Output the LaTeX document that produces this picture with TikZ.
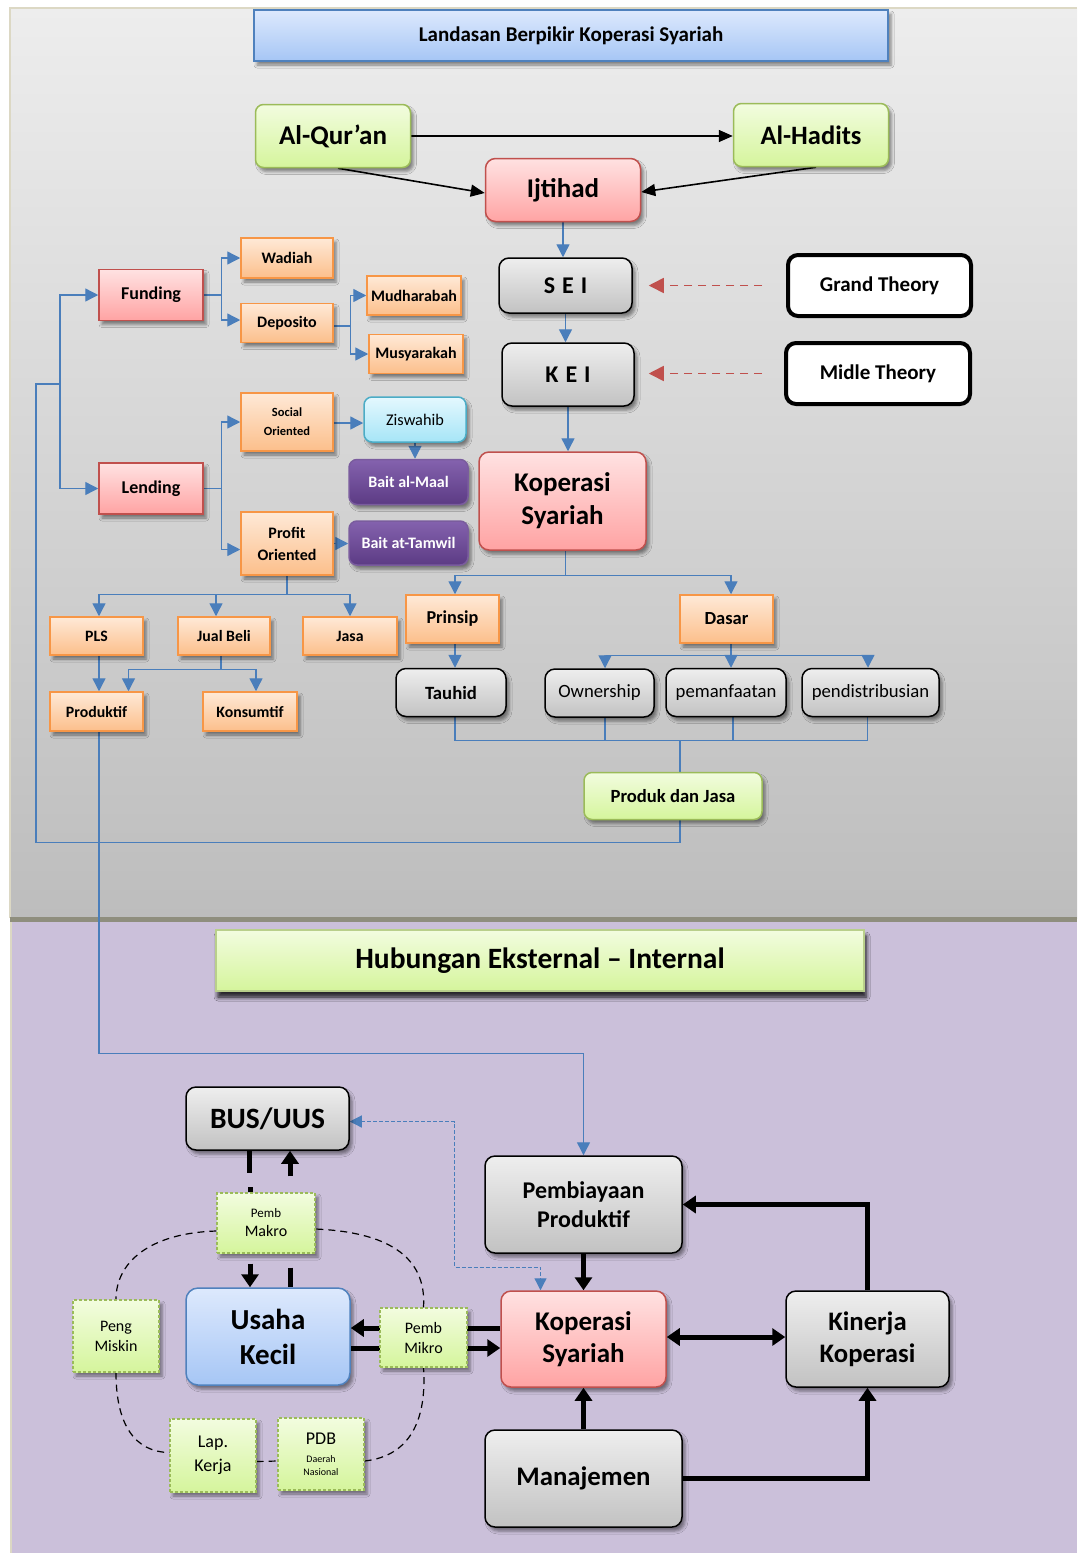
\documentclass[tikz,border=0pt]{standalone}
\usepackage{fontspec}
\setmainfont{Carlito}
\usetikzlibrary{arrows.meta,shadows.blur}

\newcommand\setfs[2]{\fontsize{#1}{#2}\selectfont}

\definecolor{panTop}{HTML}{EDEDED}
\definecolor{panBot}{HTML}{BDBDBD}
\definecolor{lav}{HTML}{CBC0DA}
\definecolor{seam}{HTML}{8F8E7E}
\definecolor{rim}{HTML}{DCD8C4}
\definecolor{gTop}{HTML}{F2FCDF}
\definecolor{gBot}{HTML}{D5F59C}
\definecolor{gLine}{HTML}{9BBB59}
\definecolor{rTop}{HTML}{FFE2E2}
\definecolor{rBot}{HTML}{FFA3A3}
\definecolor{rLine}{HTML}{C0504D}
\definecolor{kTop}{HTML}{EEEEEE}
\definecolor{kBot}{HTML}{C2C2C2}
\definecolor{oTop}{HTML}{FEE9D7}
\definecolor{oBot}{HTML}{FCBF8B}
\definecolor{oLine}{HTML}{F79646}
\definecolor{bTop}{HTML}{DDE9FD}
\definecolor{bBot}{HTML}{A6C6F5}
\definecolor{bLine}{HTML}{4F81BD}
\definecolor{cTop}{HTML}{E4F8FE}
\definecolor{cBot}{HTML}{A6E5F7}
\definecolor{cLine}{HTML}{4BACC6}
\definecolor{pTop}{HTML}{8462AE}
\definecolor{pBot}{HTML}{5C3B84}
\definecolor{pLine}{HTML}{7A5C9E}
\definecolor{wire}{HTML}{4A7EBB}

\pgfdeclarelayer{back}
\pgfdeclarelayer{wires}
\pgfsetlayers{back,wires,main}

\tikzset{
  base/.style={align=center, inner sep=1pt,
    blur shadow={shadow xshift=3pt, shadow yshift=-4pt, shadow blur radius=3pt, shadow opacity=45}},
  greenbox/.style={base, rounded corners=8pt, top color=gTop, bottom color=gBot, draw=gLine, line width=1.5pt},
  greensharp/.style={base, top color=gTop, bottom color=gBot, draw=gLine!70!white, line width=1.2pt},
  greendash/.style={base, top color=gTop, bottom color=gBot, draw=gLine, line width=1.2pt, dash pattern=on 3pt off 2pt},
  redround/.style={base, rounded corners=10pt, top color=rTop, bottom color=rBot, draw=rLine, line width=1.5pt},
  redsharp/.style={base, top color=rTop, bottom color=rBot, draw=rLine, line width=1.5pt},
  graybox/.style={base, rounded corners=10pt, top color=kTop, bottom color=kBot, draw=black, line width=1.5pt},
  orangebox/.style={base, top color=oTop, bottom color=oBot, draw=oLine, line width=1.5pt},
  bluebox/.style={base, rounded corners=12pt, top color=bTop, bottom color=bBot, draw=bLine, line width=1.5pt},
  bluetitle/.style={base, top color=bTop, bottom color=bBot, draw=bLine, line width=1.5pt},
  cyanbox/.style={base, rounded corners=8pt, top color=cTop, bottom color=cBot, draw=cLine, line width=1.5pt},
  purplebox/.style={base, rounded corners=8pt, top color=pTop, bottom color=pBot, draw=pLine, line width=1.5pt, text=white},
  theorybox/.style={align=center, inner sep=1pt, rounded corners=10pt, fill=white, draw=black, line width=4pt},
  bluewire/.style={draw=wire, line width=1.4pt},
  flowarrow/.style={bluewire, -{Triangle[length=13pt,width=13pt]}},
  blackarrow/.style={draw=black, line width=1.6pt, -{Triangle[length=14pt,width=12pt]}},
  theoryarrow/.style={draw=rLine, line width=1.6pt, dash pattern=on 8pt off 6pt, -{Triangle[length=15pt,width=15pt]}},
  heavy/.style={draw=black, line width=5pt},
  heavyarrow/.style={heavy, -{Triangle[length=13pt,width=17pt]}},
  bluedash/.style={draw=wire, line width=1.2pt, dash pattern=on 4pt off 2pt, {Triangle[length=12pt,width=12pt]}-{Triangle[length=12pt,width=12pt]}},
  loopdash/.style={draw=black, line width=1.2pt, dash pattern=on 7pt off 5pt},
}

\begin{document}
\begin{tikzpicture}[x=1pt,y=-1pt]
\useasboundingbox (0,0) rectangle (1077,1553);

% ---------- upper part: Landasan Berpikir ----------
\node[bluetitle, minimum width=634pt, minimum height=51pt, font=\setfs{21}{25}\bfseries] (title) at (571,35.5) {Landasan Berpikir Koperasi Syariah};

\node[greenbox, minimum width=155pt, minimum height=63pt, font=\setfs{27}{32}\bfseries] (quran) at (333,136) {Al-Qur’an};
\node[greenbox, minimum width=155pt, minimum height=63pt, font=\setfs{26.5}{32}\bfseries] (hadits) at (811,135) {Al-Hadits};
\node[redround, minimum width=155pt, minimum height=63pt, font=\setfs{27}{32}\bfseries] (ijtihad) at (563,190) {Ijtihad};

\node[graybox, minimum width=133pt, minimum height=55pt, font=\setfs{24}{29}\bfseries] (sei) at (565.5,285.5) {S\hspace{7pt}E\hspace{7pt}I};
\node[graybox, minimum width=132pt, minimum height=63pt, font=\setfs{24}{29}\bfseries] (kei) at (568,374.5) {K\hspace{7pt}E\hspace{7pt}I};
\node[theorybox, minimum width=183pt, minimum height=61pt, font=\setfs{21}{25}\bfseries] (grand) at (879.5,285.5) {Grand Theory};
\node[theorybox, minimum width=184pt, minimum height=61pt, font=\setfs{21}{25}\bfseries] (midle) at (878,373.5) {Midle Theory};

\node[redround, minimum width=167pt, minimum height=98pt, font=\setfs{27}{33}\bfseries] (kop1) at (562.5,501) {Koperasi\\Syariah};

\node[redsharp, minimum width=104pt, minimum height=51pt, font=\setfs{18}{22}\bfseries] (funding) at (151,295) {Funding};
\node[redsharp, minimum width=104pt, minimum height=51pt, font=\setfs{18}{22}\bfseries] (lending) at (151,488.5) {Lending};

\node[orangebox, minimum width=92pt, minimum height=40pt, font=\setfs{16}{19}\bfseries] (wadiah) at (287,258) {Wadiah};
\node[orangebox, minimum width=92pt, minimum height=39pt, font=\setfs{16}{19}\bfseries] (deposito) at (287,323) {Deposito};
\node[orangebox, minimum width=94pt, minimum height=39pt, font=\setfs{16}{19}\bfseries] (mudh) at (414,295.5) {Mudharabah};
\node[orangebox, minimum width=94pt, minimum height=39pt, font=\setfs{16}{19}\bfseries] (musy) at (416,354) {Musyarakah};
\node[orangebox, minimum width=92pt, minimum height=58pt, font=\setfs{12.5}{19}\bfseries] (social) at (287,422) {Social\\Oriented};
\node[orangebox, minimum width=92pt, minimum height=63pt, font=\setfs{16}{22}\bfseries] (profit) at (287,543.5) {Profit\\Oriented};

\node[cyanbox, minimum width=102pt, minimum height=45pt, font=\setfs{16.3}{19}] (zis) at (415,419.5) {Ziswahib};
\node[purplebox, minimum width=119pt, minimum height=45pt, font=\setfs{16}{19}\bfseries] (maal) at (408.5,482) {Bait al-Maal};
\node[purplebox, minimum width=119pt, minimum height=44pt, font=\setfs{16}{19}\bfseries] (tamwil) at (408.5,543) {Bait at-Tamwil};

\node[orangebox, minimum width=93pt, minimum height=38pt, font=\setfs{15.8}{19}\bfseries] (pls) at (96.5,636) {PLS};
\node[orangebox, minimum width=92pt, minimum height=38pt, font=\setfs{15.8}{19}\bfseries] (jual) at (224,636) {Jual Beli};
\node[orangebox, minimum width=94pt, minimum height=38pt, font=\setfs{15.8}{19}\bfseries] (jasa) at (350,636) {Jasa};
\node[orangebox, minimum width=93pt, minimum height=39pt, font=\setfs{15.8}{19}\bfseries] (produktif) at (96.5,711.5) {Produktif};
\node[orangebox, minimum width=94pt, minimum height=39pt, font=\setfs{15.8}{19}\bfseries] (konsum) at (250,711.5) {Konsumtif};

\node[orangebox, minimum width=93pt, minimum height=48pt, font=\setfs{18.2}{21}\bfseries] (prinsip) at (452.5,619) {Prinsip};
\node[orangebox, minimum width=93pt, minimum height=48pt, font=\setfs{18.5}{21}\bfseries] (dasar) at (726.5,619) {Dasar};

\node[graybox, minimum width=110pt, minimum height=48pt, font=\setfs{18.7}{22}\bfseries] (tauhid) at (451,692.5) {Tauhid};
\node[graybox, minimum width=109pt, minimum height=48pt, font=\setfs{18.7}{22}] (owner) at (599.5,693) {Ownership};
\node[graybox, minimum width=120pt, minimum height=48pt, font=\setfs{18.7}{22}] (peman) at (726,692.5) {pemanfaatan};
\node[graybox, minimum width=137pt, minimum height=48pt, font=\setfs{18.7}{22}] (pend) at (870.5,692.5) {pendistribusian};

\node[greenbox, minimum width=178pt, minimum height=47pt, font=\setfs{18.6}{22}\bfseries] (produk) at (673,796) {Produk dan Jasa};

% ---------- lower part: Hubungan Eksternal - Internal ----------
\node[greensharp, minimum width=648pt, minimum height=61pt, font=\setfs{29.5}{34}\bfseries,
      blur shadow={shadow xshift=2pt, shadow yshift=-6pt, shadow blur radius=4pt, shadow opacity=55}] (title2) at (540,960.5) {Hubungan Eksternal – Internal};

\node[graybox, minimum width=163pt, minimum height=63pt, font=\setfs{29.5}{34}\bfseries] (bus) at (267.5,1118.5) {BUS/UUS};
\node[greendash, minimum width=98pt, minimum height=60pt, font=\setfs{16}{19}] (makro) at (266,1223) {{\setfs{13}{18}Pemb}\\Makro};
\node[bluebox, minimum width=164pt, minimum height=97pt, font=\setfs{29}{35}\bfseries] (usaha) at (268,1336.5) {Usaha\\Kecil};
\node[greendash, minimum width=86pt, minimum height=72pt, font=\setfs{16}{20}] (miskin) at (116,1336) {Peng\\Miskin};
\node[greendash, minimum width=87pt, minimum height=59pt, font=\setfs{16}{20}] (mikro) at (423.5,1337.5) {Pemb\\Mikro};
\node[greendash, minimum width=86pt, minimum height=73pt, font=\setfs{18}{24}] (lap) at (213,1455.5) {Lap.\\Kerja};
\node[greendash, minimum width=86pt, minimum height=72pt, font=\setfs{18}{20}] (pdb) at (321,1454) {PDB\\[-2pt]{\setfs{10}{12}Daerah}\\[-7pt]{\setfs{10}{12}Nasional}};

\node[graybox, minimum width=197pt, minimum height=97pt, font=\setfs{24}{29}\bfseries] (pembi) at (583.5,1204.5) {Pembiayaan\\Produktif};
\node[redround, minimum width=165pt, minimum height=96pt, font=\setfs{27}{32}\bfseries] (kop2) at (583.5,1339) {Koperasi\\Syariah};
\node[graybox, minimum width=163pt, minimum height=96pt, font=\setfs{26.7}{32}\bfseries] (kinerja) at (867.5,1339) {Kinerja\\Koperasi};
\node[graybox, minimum width=197pt, minimum height=97pt, font=\setfs{26.8}{31}\bfseries] (manaj) at (583.5,1478.5) {Manajemen};

% ---------- connectors ----------
\begin{pgfonlayer}{wires}
  % sources
  \draw[blackarrow] (quran.east) -- (quran.east -| hadits.west);
  \draw[blackarrow] ([xshift=5pt]quran.south) -- ([yshift=-3pt]ijtihad.west);
  \draw[blackarrow] ([xshift=5pt]hadits.south) -- ([yshift=-2pt]ijtihad.east);
  \draw[flowarrow] (ijtihad.south) -- (ijtihad.south |- sei.north);
  \draw[flowarrow] (sei.south) -- (sei.south |- kei.north);
  \draw[flowarrow] (kei.south) -- (kei.south |- kop1.north);
  \draw[theoryarrow] ([xshift=-24pt]grand.west) -- ([xshift=16pt]sei.east |- grand.west);
  \draw[theoryarrow] ([xshift=-22pt]midle.west) -- ([xshift=14pt]kei.east |- midle.west);

  % funding / lending tree
  \coordinate (trunk) at (60,384);
  \draw[flowarrow] (trunk) |- (funding.west);
  \draw[flowarrow] (trunk) |- (lending.west);
  \draw[bluewire] (funding.east) -- ++(18,0) coordinate (fj);
  \draw[flowarrow] (fj) |- (wadiah.west);
  \draw[flowarrow] (fj) |- ([yshift=3pt]deposito.west);
  \draw[bluewire] ([yshift=-3pt]deposito.east) -- ++(17,0) coordinate (dj);
  \draw[flowarrow] (dj) |- (mudh.west);
  \draw[flowarrow] (dj) |- (musy.west);
  \draw[bluewire] (lending.east) -- ++(18,0) coordinate (lj);
  \draw[flowarrow] (lj) |- (social.west);
  \draw[flowarrow] (lj) |- ([yshift=-6pt]profit.west);
  \draw[flowarrow] ([yshift=-1pt]social.east) -- ([yshift=-1pt]social.east -| zis.west);
  \draw[flowarrow] (zis.south) -- (zis.south |- maal.north);
  \draw[flowarrow] (profit.east) -- (profit.east -| tamwil.west);
  \draw[bluewire] (profit.south) -- ++(0,19) coordinate (pfb);
  \draw[flowarrow] (pfb) -| ([xshift=2.5pt]pls.north);
  \draw[flowarrow] (pfb) -| ([xshift=-8pt]jual.north);
  \draw[flowarrow] (pfb) -| (jasa.north);
  \draw[flowarrow] ([xshift=2.5pt]pls.south) -- ([xshift=2.5pt]produktif.north);
  \draw[bluewire] ([xshift=-3pt]jual.south) -- ++(0,14) coordinate (jb);
  \draw[flowarrow] (jb) -| ([xshift=32pt]produktif.north);
  \draw[flowarrow] (jb) -| ([xshift=6pt]konsum.north);
  \draw[flowarrow] ([xshift=2.5pt]produktif.south) -- ++(0,322) -| (pembi.north);

  % koperasi tree
  \draw[bluewire] ([xshift=3pt]kop1.south) -- ++(0,25) coordinate (kb);
  \draw[flowarrow] (kb) -| ([xshift=2.5pt]prinsip.north);
  \draw[flowarrow] (kb) -| ([xshift=4.5pt]dasar.north);
  \draw[flowarrow] ([xshift=2.5pt]prinsip.south) -- ([xshift=2.5pt]prinsip.south |- tauhid.north);
  \draw[bluewire] ([xshift=4.5pt]dasar.south) -- ++(0,12) coordinate (db);
  \draw[flowarrow] (db) -| ([xshift=5.5pt]owner.north);
  \draw[flowarrow] (db) -- ([xshift=4.5pt]dasar.south |- peman.north);
  \draw[flowarrow] (db) -| ([xshift=-2.5pt]pend.north);
  \coordinate (pj) at ([xshift=7pt,yshift=31pt]produk.north);
  \draw[bluewire] ([xshift=4pt]tauhid.south) |- (pj);
  \draw[bluewire] ([xshift=5.5pt]owner.south) -- ([xshift=5.5pt]owner.south |- pj);
  \draw[bluewire] ([xshift=7pt]peman.south) -- ([xshift=7pt]peman.south |- pj);
  \draw[bluewire] ([xshift=-3pt]pend.south) |- (pj);
  \draw[bluewire] (pj) -- ([xshift=7pt]produk.north);
  \draw[bluewire] ([xshift=7pt]produk.south) -- ++(0,22) -| (36,384) -- (trunk);

  % lower section
  \draw[heavy] ([xshift=-18pt]bus.south) -- ++(0,22);
  \draw[heavy] ([xshift=-16pt]makro.north) -- ++(0,-5);
  \draw[heavyarrow] ([xshift=24pt,yshift=16pt]makro.north) -- ([xshift=22.5pt]bus.south);
  \draw[heavyarrow] ([xshift=-16pt,yshift=-10pt]makro.south) -- ([xshift=-18pt]usaha.north);
  \draw[heavy] ([xshift=24pt,yshift=-14pt]makro.south) -- ([xshift=22pt]usaha.north);
  \coordinate (mkU) at ([yshift=11pt]kop2.west);
  \coordinate (mkD) at ([yshift=-9pt]kop2.west);
  \draw[heavyarrow] (mkU) -- (mkU -| usaha.east);
  \draw[heavyarrow] (mkD -| usaha.east) -- (mkD);
  \draw[heavyarrow] (pembi.south) -- (kop2.north);
  \draw[heavyarrow] (manaj.north) -- (kop2.south);
  \draw[heavy, {Triangle[length=13pt,width=17pt]}-{Triangle[length=13pt,width=17pt]}] ([yshift=2pt]kop2.east) -- ([yshift=2pt]kinerja.west);
  \draw[heavyarrow] (kinerja.north) |- (pembi.east);
  \draw[heavyarrow] (manaj.east) -| (kinerja.south);
  \coordinate (dk) at ([xshift=-43pt]kop2.north);
  \draw[bluedash] ([yshift=-3pt]bus.east) -- ++(105,0) |- ([yshift=23pt]dk) -- (dk);

  % circle of indicators
  \draw[loopdash] ([yshift=-8pt]makro.west) .. controls (150,1233) and (116,1262) .. (miskin.north);
  \draw[loopdash] (miskin.south) .. controls (116,1425) and (135,1452) .. ([yshift=3pt]lap.west);
  \draw[loopdash] ([yshift=-6pt]lap.east) -- ([yshift=-7pt]pdb.west);
  \draw[loopdash] ([yshift=-7pt]pdb.east) .. controls (410,1456) and (427,1420) .. (mikro.south);
  \draw[loopdash] (mikro.north) .. controls (427,1255) and (385,1232) .. ([yshift=-6pt]makro.east);
\end{pgfonlayer}

% panels behind everything
\begin{pgfonlayer}{back}
  \fill[white] (0,0) rectangle (1077,1553);
  \shade[top color=panTop,bottom color=panBot] (10,8) rectangle (1077,918);
  \draw[rim,line width=2pt] (10,918) -- (10,8) -- (1077,8);
  \fill[lav] (12,922) rectangle (1077,1553);
  \draw[rim,line width=2pt] (11,922) -- (11,1553);
  \fill[seam] (10,917) rectangle (1077,922);
\end{pgfonlayer}
\end{tikzpicture}
\end{document}
